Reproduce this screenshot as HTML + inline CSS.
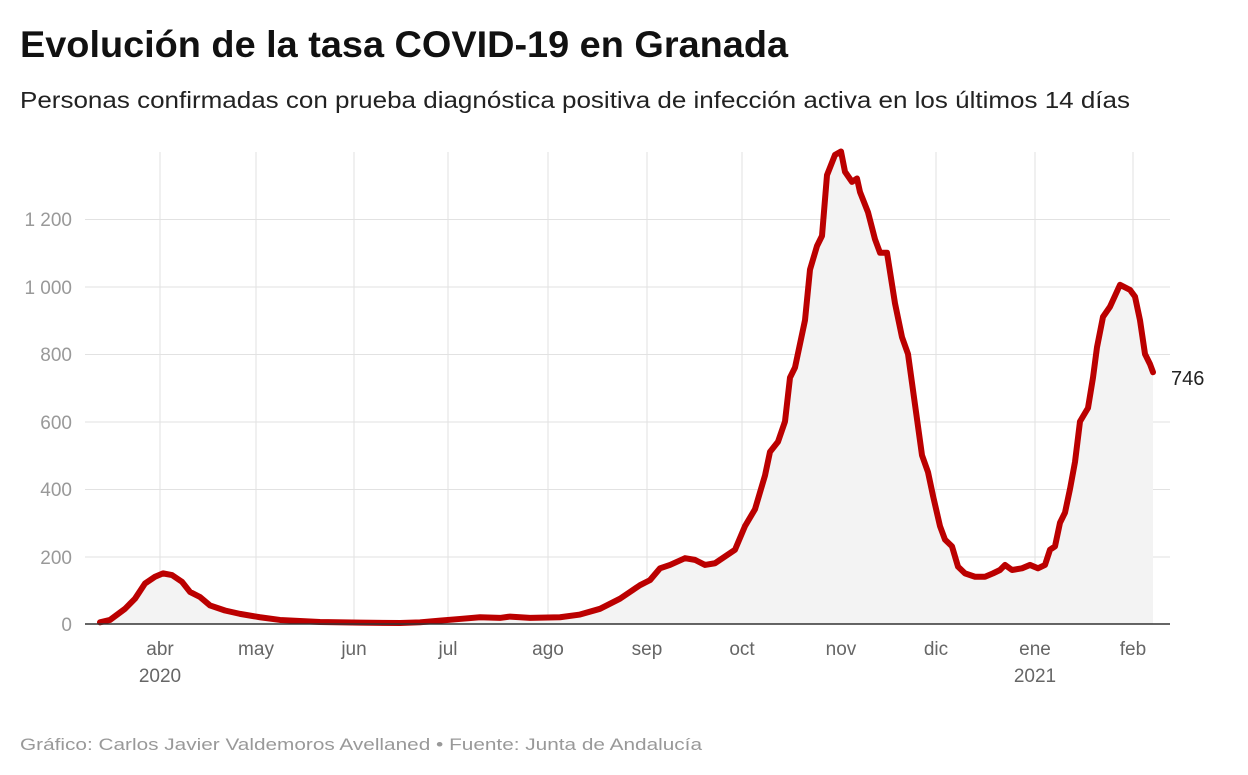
<!DOCTYPE html>
<html><head><meta charset="utf-8"><style>
body{margin:0;background:#fff;width:1248px;height:770px;overflow:hidden;font-family:"Liberation Sans",sans-serif;}
</style></head><body>
<svg width="1248" height="770" xmlns="http://www.w3.org/2000/svg" font-family="Liberation Sans, sans-serif">
<text x="20" y="57" font-size="37" font-weight="bold" fill="#111" textLength="768" lengthAdjust="spacingAndGlyphs">Evolución de la tasa COVID-19 en Granada</text>
<text x="20" y="108" font-size="23" fill="#222" textLength="1110" lengthAdjust="spacingAndGlyphs">Personas confirmadas con prueba diagnóstica positiva de infección activa en los últimos 14 días</text>
<g stroke="#e2e2e2" stroke-width="1">
<line x1="85" x2="1170" y1="557" y2="557"/><line x1="85" x2="1170" y1="489.5" y2="489.5"/><line x1="85" x2="1170" y1="422" y2="422"/><line x1="85" x2="1170" y1="354.5" y2="354.5"/><line x1="85" x2="1170" y1="287" y2="287"/><line x1="85" x2="1170" y1="219.5" y2="219.5"/>
<line x1="160" x2="160" y1="152" y2="624"/><line x1="256" x2="256" y1="152" y2="624"/><line x1="354" x2="354" y1="152" y2="624"/><line x1="448" x2="448" y1="152" y2="624"/><line x1="548" x2="548" y1="152" y2="624"/><line x1="647" x2="647" y1="152" y2="624"/><line x1="742" x2="742" y1="152" y2="624"/><line x1="841" x2="841" y1="152" y2="624"/><line x1="936" x2="936" y1="152" y2="624"/><line x1="1035" x2="1035" y1="152" y2="624"/><line x1="1133" x2="1133" y1="152" y2="624"/>
</g>
<g font-size="19" fill="#999" text-anchor="end">
<text x="72" y="631">0</text><text x="72" y="564">200</text><text x="72" y="496">400</text><text x="72" y="429">600</text><text x="72" y="361">800</text><text x="72" y="294">1 000</text><text x="72" y="226">1 200</text>
</g>
<g font-size="19" fill="#666" text-anchor="middle">
<text x="160" y="655">abr</text><text x="160" y="682">2020</text><text x="256" y="655">may</text><text x="354" y="655">jun</text><text x="448" y="655">jul</text><text x="548" y="655">ago</text><text x="647" y="655">sep</text><text x="742" y="655">oct</text><text x="841" y="655">nov</text><text x="936" y="655">dic</text><text x="1035" y="655">ene</text><text x="1035" y="682">2021</text><text x="1133" y="655">feb</text>
</g>
<g transform="translate(0,624) scale(1,-0.3375)">
<path fill="#f3f3f3" d="M100,0 L100,5 110,12 125,45 135,75 145,120 155,140 163,150 172,145 182,125 190,95 200,80 210,55 225,40 240,30 260,20 280,12 320,6 360,4 400,3 420,5 440,10 460,15 480,20 500,18 510,22 530,18 560,20 580,28 600,45 620,75 630,95 640,115 650,130 660,165 670,175 685,195 695,190 705,175 715,180 725,200 735,220 745,290 755,340 765,440 770,510 778,540 785,600 790,730 795,760 805,900 810,1050 817,1120 822,1150 827,1330 835,1390 841,1400 845,1340 852,1310 857,1320 860,1280 868,1220 875,1140 880,1100 887,1100 895,950 902,850 908,800 915,650 922,500 928,450 933,380 940,290 945,250 952,230 958,170 965,150 975,140 985,140 993,150 1000,160 1005,175 1012,160 1022,165 1030,175 1038,165 1045,175 1050,220 1055,230 1060,300 1065,330 1070,400 1075,480 1080,600 1088,640 1093,730 1097,820 1103,910 1110,940 1120,1005 1130,990 1135,970 1140,900 1145,800 1150,770 1153,746 L1153,0 Z"/>
<path fill="none" stroke="#bb0000" stroke-width="6" stroke-linejoin="round" stroke-linecap="round" vector-effect="non-scaling-stroke" d="M100,5 110,12 125,45 135,75 145,120 155,140 163,150 172,145 182,125 190,95 200,80 210,55 225,40 240,30 260,20 280,12 320,6 360,4 400,3 420,5 440,10 460,15 480,20 500,18 510,22 530,18 560,20 580,28 600,45 620,75 630,95 640,115 650,130 660,165 670,175 685,195 695,190 705,175 715,180 725,200 735,220 745,290 755,340 765,440 770,510 778,540 785,600 790,730 795,760 805,900 810,1050 817,1120 822,1150 827,1330 835,1390 841,1400 845,1340 852,1310 857,1320 860,1280 868,1220 875,1140 880,1100 887,1100 895,950 902,850 908,800 915,650 922,500 928,450 933,380 940,290 945,250 952,230 958,170 965,150 975,140 985,140 993,150 1000,160 1005,175 1012,160 1022,165 1030,175 1038,165 1045,175 1050,220 1055,230 1060,300 1065,330 1070,400 1075,480 1080,600 1088,640 1093,730 1097,820 1103,910 1110,940 1120,1005 1130,990 1135,970 1140,900 1145,800 1150,770 1153,746"/>
</g>
<line x1="85" x2="1170" y1="624" y2="624" stroke="#333" stroke-width="1.5"/>
<text x="1171" y="385" font-size="20" fill="#222">746</text>
<text x="20" y="750" font-size="17" fill="#999" textLength="682" lengthAdjust="spacingAndGlyphs">Gráfico: Carlos Javier Valdemoros Avellaned • Fuente: Junta de Andalucía</text>
</svg>
</body></html>
